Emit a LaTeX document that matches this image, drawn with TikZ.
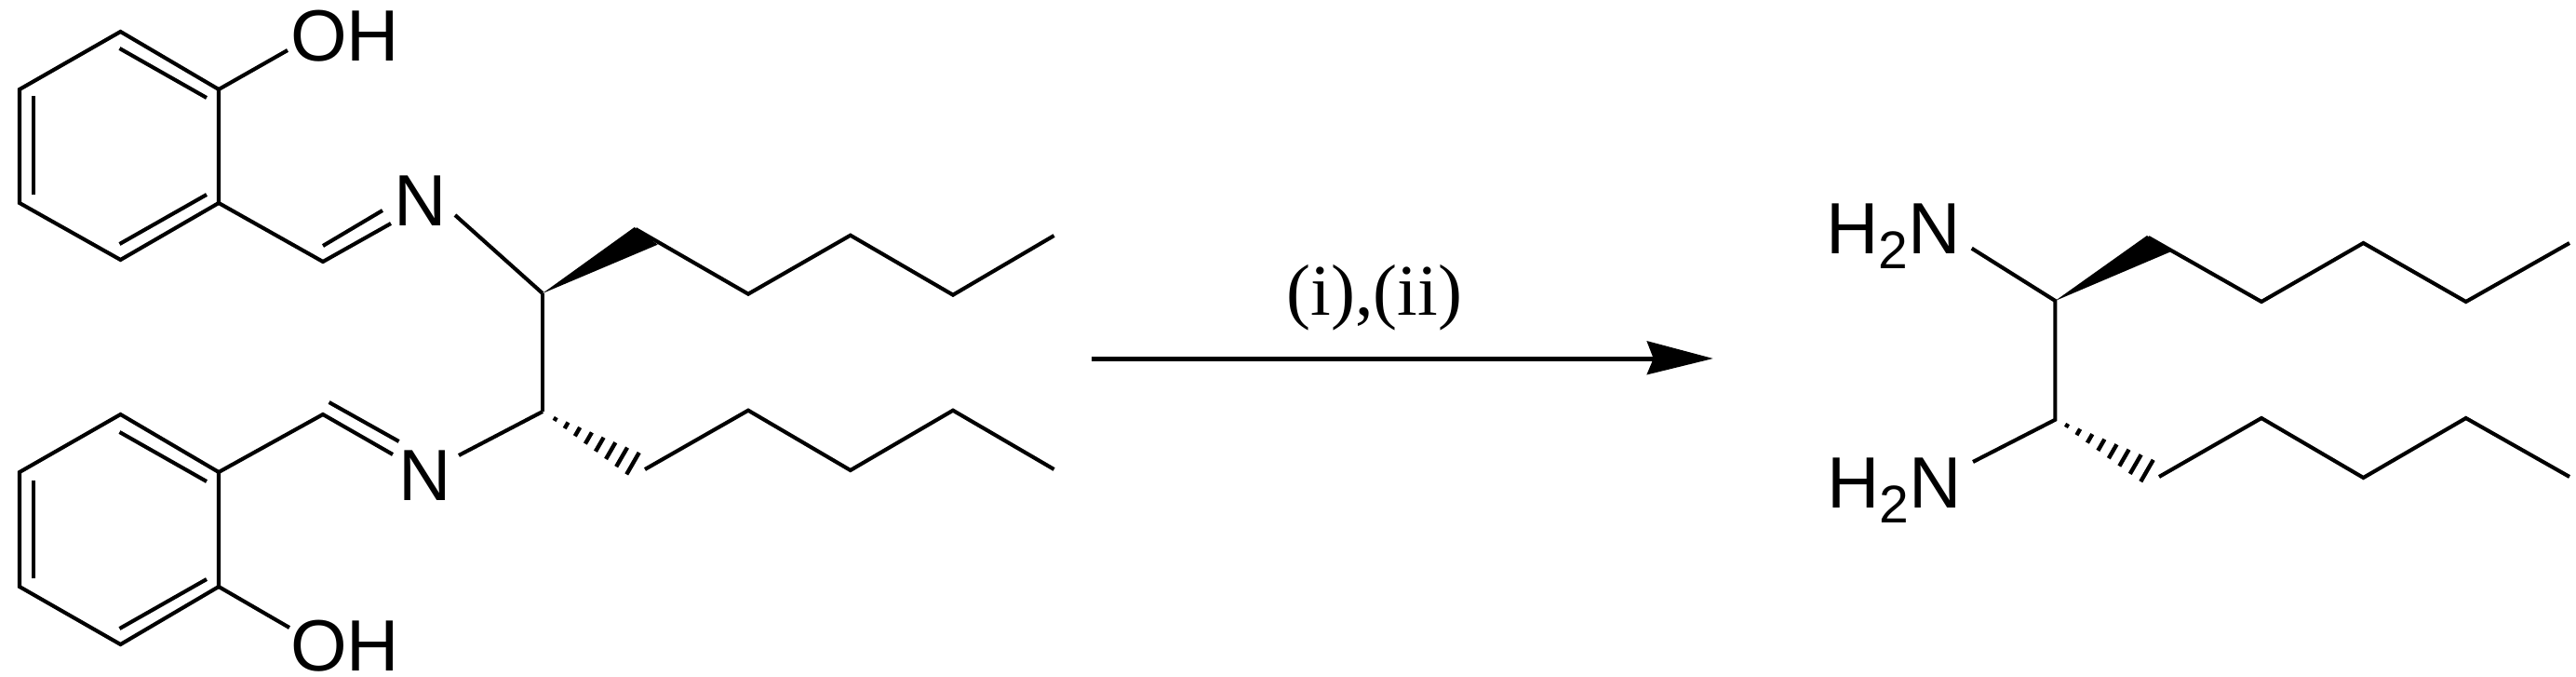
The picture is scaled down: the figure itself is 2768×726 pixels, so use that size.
\documentclass[tikz,border=0pt]{standalone}
\usepackage{fontspec}
\setmainfont{Liberation Sans}
\newfontfamily\rmlabel{Liberation Serif}
\newcommand{\Htwo}{H\raisebox{-16pt}{\fontsize{57}{57}\selectfont 2}N}
\tikzset{
  bond/.style={line width=4.1pt,line cap=butt,line join=miter},
  atomlabel/.style={inner sep=0pt,anchor=base west,font=\fontsize{78}{78}\selectfont},
  reagent/.style={inner sep=0pt,anchor=base,font=\rmlabel\fontsize{78}{78}\selectfont},
  wedgefill/.style={fill=black,draw=none},
  hashbar/.style={line width=4.4pt}
}
\begin{document}
\begin{tikzpicture}[x=1pt,y=-1pt]
\useasboundingbox (0,0) rectangle (2768,726);
% --- labels
\node[atomlabel] (oh1) at (312,65) {OH};
\node[atomlabel] (oh2) at (312,720) {OH};
\node[atomlabel] (n1) at (423,242) {N};
\node[atomlabel] (n2) at (428,537) {N};
\node[atomlabel] (nh1) at (1962,272.7) {\Htwo};
\node[atomlabel] (nh2) at (1963,545) {\Htwo};
\node[reagent] (cond) at (1477,338) {(i),(ii)};
% --- upper ring
\coordinate (a1) at (129.5,34);\coordinate (a2) at (235,96);\coordinate (a3) at (235,218);
\coordinate (a4) at (129.5,279);\coordinate (a5) at (21,218);\coordinate (a6) at (21,96);
\draw[bond] (a1)--(a2)--(a3)--(a4)--(a5)--(a6)--cycle;
\coordinate (a12s) at (128.5,52);\coordinate (a12e) at (222,105);
\coordinate (a34s) at (222,209);\coordinate (a34e) at (128.5,262);
\coordinate (a56s) at (36,209);\coordinate (a56e) at (36,103);
\draw[bond] (a12s)--(a12e);\draw[bond] (a34s)--(a34e);\draw[bond] (a56s)--(a56e);
\coordinate (oh1b) at (309,54);\draw[bond] (a2)--(oh1b);
\coordinate (c1) at (347,281);\coordinate (c1n) at (420,240);
\draw[bond] (a3)--(c1)--(c1n);
\coordinate (c1i) at (347,264);\coordinate (c1j) at (411,226);\draw[bond] (c1i)--(c1j);
\coordinate (n1b) at (489,231);\coordinate (s1) at (583,315);\draw[bond] (n1b)--(s1);
\coordinate (s2) at (583,442);\draw[bond] (s1)--(s2);
% --- lower ring
\coordinate (b1) at (129.5,445);\coordinate (b2) at (235,507);\coordinate (b3) at (235,630);
\coordinate (b4) at (129.5,692);\coordinate (b5) at (21,630);\coordinate (b6) at (21,507);
\draw[bond] (b1)--(b2)--(b3)--(b4)--(b5)--(b6)--cycle;
\coordinate (b12s) at (128.5,464);\coordinate (b12e) at (222,517);
\coordinate (b34s) at (222,622);\coordinate (b34e) at (128.5,675);
\coordinate (b56s) at (36,621);\coordinate (b56e) at (36,516);
\draw[bond] (b12s)--(b12e);\draw[bond] (b34s)--(b34e);\draw[bond] (b56s)--(b56e);
\coordinate (oh2b) at (311,674);\draw[bond] (b3)--(oh2b);
\coordinate (c2) at (347,445);\coordinate (c2n) at (422,488);
\draw[bond] (b2)--(c2)--(c2n);
\coordinate (c2i) at (353.6,432);\coordinate (c2j) at (428.6,474);\draw[bond] (c2i)--(c2j);
\coordinate (n2b) at (493,489);\draw[bond] (n2b)--(s2);
% --- left chains
\coordinate (w1) at (681.7,244);\coordinate (w2) at (706.7,262.7);
\fill[wedgefill] (s1)--(w1)--(w2)--cycle;
\coordinate (u1) at (804,315.7);\coordinate (u2) at (913.8,252.7);\coordinate (u3) at (1024,316.7);\coordinate (u4) at (1132.6,253);
\coordinate (w3) at (683,246);
\draw[bond] (w3)--(u1)--(u2)--(u3)--(u4);
\coordinate (l0) at (693,504);\coordinate (l1) at (804,440.7);\coordinate (l2) at (913.8,505);\coordinate (l3) at (1024,440.7);\coordinate (l4) at (1132.6,504);
\draw[bond] (l0)--(l1)--(l2)--(l3)--(l4);
\foreach \i in {0,...,7}{
  \pgfmathsetmacro{\t}{\i/7}
  \pgfmathsetmacro{\cx}{596.7+\t*(680-596.7)}
  \pgfmathsetmacro{\cy}{450+\t*(497.7-450)}
  \pgfmathsetmacro{\hl}{2.2+\t*11.3}
  \draw[hashbar] (\cx+0.5*\hl,\cy-0.866*\hl)--(\cx-0.5*\hl,\cy+0.866*\hl);
}
% --- arrow
\coordinate (ar1) at (1173,385);\coordinate (ar2) at (1778,385);
\draw[line width=5pt] (ar1)--(ar2);
\coordinate (h0) at (1840.7,385);\coordinate (h1) at (1769.3,366);\coordinate (h2) at (1776.7,385);\coordinate (h3) at (1769.3,402.5);
\fill[wedgefill] (h0)--(h1)--(h2)--(h3)--cycle;
% --- right molecule
\coordinate (t1) at (2208.4,323);\coordinate (t2) at (2208.4,450.7);
\coordinate (nh1b) at (2118.7,266.7);\coordinate (nh2b) at (2120,496);
\draw[bond] (nh1b)--(t1)--(t2)--(nh2b);
\coordinate (x1) at (2307,253);\coordinate (x2) at (2332,270.5);\coordinate (x3) at (2308.5,255);
\fill[wedgefill] (t1)--(x1)--(x2)--cycle;
\coordinate (v1) at (2430,324);\coordinate (v2) at (2539.5,261);\coordinate (v3) at (2649.7,324);\coordinate (v4) at (2761,261);
\draw[bond] (x3)--(v1)--(v2)--(v3)--(v4);
\coordinate (y0) at (2320,512);\coordinate (y1) at (2430,449);\coordinate (y2) at (2539.5,513);\coordinate (y3) at (2649.7,449);\coordinate (y4) at (2761,512);
\draw[bond] (y0)--(y1)--(y2)--(y3)--(y4);
\foreach \i in {0,...,7}{
  \pgfmathsetmacro{\t}{\i/7}
  \pgfmathsetmacro{\cx}{2221+\t*(2307-2221)}
  \pgfmathsetmacro{\cy}{457+\t*(505.5-457)}
  \pgfmathsetmacro{\hl}{2.2+\t*11.3}
  \draw[hashbar] (\cx+0.5*\hl,\cy-0.866*\hl)--(\cx-0.5*\hl,\cy+0.866*\hl);
}
\end{tikzpicture}
\end{document}
